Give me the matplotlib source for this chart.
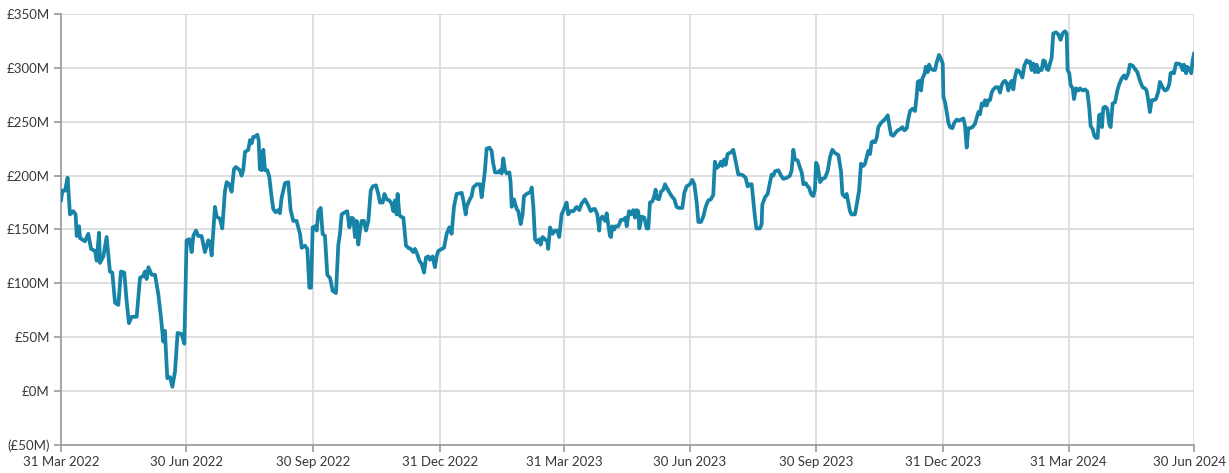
import matplotlib
matplotlib.use("Agg")
import matplotlib.pyplot as plt
import matplotlib.dates as mdates
import matplotlib.ticker as mticker
import matplotlib.transforms as mtransforms
import pandas as pd

# ---- data (days after 31 Mar 2022, value in £M) ----
start_date = "2022-03-31"
day_offset = [
    0, 1, 2.9, 4.8, 6.5, 8.9, 10.6, 11.4, 13.1, 13.8, 17.4, 19.8, 21.8, 24.7, 25.9, 27.6, 28.3, 30.7, 33.1, 35.5,
    37.2, 39.2, 41.6, 43.5, 45.9, 47.6, 49.3, 51.3, 54.9, 57.3, 59.7, 60.9, 62.1, 63.4, 65.8, 68.2, 70.6, 72.5,
    74.2, 75.4, 77.1, 79.1, 80.8, 82.7, 84.6, 87.5, 89.5,
    91.1, 93.1, 94.8, 96, 97.9, 99.6, 102, 104.4, 106.9, 108.1, 109.3, 111.7, 112.9, 115.3, 117, 118.9, 120.2,
    122.1, 123.8, 125.5, 126.9, 129.8, 131, 132.2, 133.5, 135.9, 137.1, 138.3, 139.5, 140.7, 142.4, 143.4, 144.3,
    145.5, 146.8, 148, 149.7, 151.1, 152.8, 154, 155.7, 157.6, 158.8, 160, 162.5, 164.9, 166.6, 168.5, 170.9, 173.4,
    174.6, 177, 178.7, 180.2, 181.4, 182.1, 182.6, 184.3, 185.5, 186.7, 188.4, 189.8, 191.5, 193.2, 195.2, 197.1,
    199.5, 201.2, 202.4, 203.6, 206, 207.7, 209.2, 210.9, 212.1, 213.3, 214.5, 215.7, 216.9, 218.1, 219.8, 221.3,
    223, 224.7, 226.1, 228.5, 230.2, 231.4, 233.4, 234.6, 236.3, 238.2, 239.9, 241.1, 242.3, 243.5, 244.2, 245.5,
    246.4, 248.4, 250.3, 252, 253.7, 255.6, 256.8, 258.5, 260, 261.7, 263.4, 264.8, 266.5, 267.7, 269.6, 271.3,
    272.5, 273.7, 276.2, 277.9, 279.8, 281.7, 283.4, 285.1, 287, 290.7, 291.9, 293.6, 294.3, 296.2, 297.9, 299.1,
    301.6, 304, 305.2, 306.4, 307.6, 308.8, 310.7, 312.4, 313.6, 314.9, 317.3, 318.5, 319.7, 320.9, 322.1, 323.3,
    325.3, 326.2, 327, 328.6, 330.6, 331.8, 333.5, 334.9, 335.9, 337.8, 340.7, 341.5, 342.7, 343.9, 345.6, 347,
    348, 349.4, 351.1, 352.8, 353.5, 354.8, 356.7, 358.4, 360.1, 361.5, 363.2, 364.9, 366.8, 368, 369.7, 371.7,
    374.1, 376, 377.7, 380.1, 381.4, 382.6, 384.3, 386.2, 387.4, 389.1, 390.5,
    391, 392.7, 394.7, 395.9, 397.1, 398.3, 399, 400, 401.4, 402.4, 404.3, 406.3, 408, 409.6, 410.4, 412.1, 413.5,
    415.2, 416.4, 417.6, 418.8, 419.6, 421.3, 423.2, 424.9, 426.1, 427.3, 429, 430.4, 431.4, 432.1, 433.8, 435.3,
    437, 438.2, 439.4, 441.1, 443, 445, 446.6, 448.3, 450.8, 452.2, 453.9, 456.3, 458, 459.5, 461.2, 462.4, 464.3,
    466, 467.7, 469.6, 471.5, 473.2, 474.4, 475.7, 477.4, 478.8, 479.8, 481.2, 482.2, 483.6, 486.5, 487.7, 488.9,
    491.4,
    493.4, 495, 496.7, 498.2, 499.9, 501.1, 502.3, 503.5, 504.5, 507.1, 508.3, 508.8, 510.8, 512.7, 514.4, 515.6,
    516.8, 518, 520.4, 522.4, 524.1, 526.5, 528.9, 530.1, 531.3, 532.5, 534.5, 536.2, 537.4, 538.6, 540.3, 541.7,
    542.7, 544.1, 545.8, 547, 547.8, 549, 550.7, 552.4, 554.3, 556.2, 557.9, 559.6, 561.5, 564, 565.9, 566.9,
    568.8, 570, 571.2, 572.4, 573.6, 576, 577.3, 579, 580.4, 582.1, 583.3, 584.5, 585.7, 586.9, 588.1, 589.3,
    590.6, 591.8, 593, 595, 596.6, 598.3, 599.8, 600.8, 602.2, 603.9, 605.6, 607, 608.7, 610.4, 611.9, 613.6,
    614.8, 616, 617.7, 619.6, 620.8, 621.6, 622.8, 624, 624.9, 626.4, 627.4, 628.8, 629.8, 631.2, 632.9, 634.1,
    635.3, 637, 638.5, 639.7, 640.2, 641.4, 642.6, 643.8, 645, 646.7, 648.1, 649.8, 651.5, 653, 654.7, 655.9,
    657.1, 658.3, 659.5, 661.2, 663.1, 664.4, 665.6, 666.8, 668, 669.2, 670.4, 671.6, 672.8, 674, 675.2, 676.4,
    678.1, 680.1, 681.3, 682.5, 683.7, 684.9, 686.1, 687.3, 688.5, 689.7, 690.9, 692.2, 693.4, 695.1, 696.5,
    697.5, 698.9, 700.6, 701.8,
    703, 704.2, 705.4, 706.6, 707.8, 709, 710.3, 711.5, 712.7, 713.9, 715.1, 716.3, 717.5, 718.7, 719.9, 721.9,
    723.6, 725.2, 726.7, 728.4, 729.6, 730.3, 731.5, 732.5, 734, 734.9, 736.4, 738.1, 739.3, 741.2, 742.9, 744.6,
    746, 747, 748.5, 749.7, 750.9, 752.1, 753.1, 754.3, 755.2, 756.2, 757.6, 759.1, 760.5, 761.5, 763, 764.7,
    766.4, 767.8, 769.5, 771.2, 772.6, 774.3, 775.5, 777.5, 779.2, 780.9, 782.8, 784.7, 786.4, 787.6, 788.8, 790,
    791.3, 792.5, 794.4, 796.1, 797.3, 799.2, 800.9, 802.6, 804.1, 805, 806.5, 807.5, 808.9, 810.6, 812.3, 813.8,
    814.7, 816.2, 817.1, 818.6, 820, 821, 822,
]
value_m = [
    177, 186, 186, 198, 164, 167, 164, 144, 153, 142, 139, 146, 132, 130, 121, 147, 119, 125, 143, 111,
    110, 82, 80, 111, 110, 84, 63, 69, 69, 105, 107, 111, 104, 115, 108, 108, 90, 69,
    46, 56, 12, 13, 4, 18, 54, 53, 44,
    140, 141, 129, 144, 149, 144, 144, 129, 140, 138, 126, 171, 162, 160, 151, 185, 194,
    192, 185, 206, 208, 205, 200, 205, 222, 224, 233, 230, 236, 236, 238, 233, 206,
    205, 224, 205, 205, 199, 180, 169, 166, 168, 165, 179, 193, 194, 168, 158, 158, 146,
    133, 135, 132, 96, 96, 130, 152, 153, 149, 167, 170, 146, 144, 108, 105, 93,
    91, 136, 146, 164, 166, 167, 152, 161, 160, 143, 158, 136, 149, 158, 158, 149,
    158, 186, 190, 191, 183, 175, 175, 183, 178, 177, 174, 167, 177, 164, 183, 164,
    162, 161, 135, 133, 132, 129, 132, 127, 121, 118, 110, 124, 125, 122, 125, 115,
    125, 130, 132, 133, 146, 152, 146, 171, 183, 184, 177, 164, 171, 177, 181, 189,
    192, 192, 180, 192, 205, 225, 226, 223, 211, 203, 203, 205, 202, 216, 205, 202,
    203, 194, 171, 178, 169, 167, 155, 164, 181, 183, 185, 189, 171, 141, 138, 141,
    136, 143, 141, 139, 132, 152, 146, 149, 149, 143, 164, 169, 175, 164, 167, 167,
    171, 168, 174, 178, 175, 172, 167, 169, 169, 164, 149,
    159, 162, 158, 165, 154, 144, 143, 153, 150, 153, 153, 159, 159, 161, 153, 167, 164,
    168, 161, 168, 167, 151, 162, 161, 151, 151, 175, 176, 181, 187, 179, 178, 185,
    187, 192, 189, 185, 181, 178, 171, 170, 170, 184, 190, 192, 196, 192, 175, 157, 157,
    162, 171, 177, 178, 182, 213, 207, 209, 213, 209, 215, 210, 220, 222, 224, 217,
    201,
    201, 200, 198, 190, 192, 192, 176, 161, 151, 151, 155, 173, 180, 183, 194, 201,
    200, 204, 205, 200, 197, 198, 200, 205, 224, 215, 214, 207, 203, 192, 193, 190,
    189, 183, 181, 187, 212, 209, 194, 197, 198, 204, 217, 224, 221, 219, 204, 183,
    180, 183, 175, 167, 164, 164, 173, 186, 211, 209, 211, 217, 223, 220, 231, 232,
    231, 235, 245, 249, 251, 253, 256, 248, 238, 237, 240, 242, 243, 245, 242, 244,
    253, 260, 262, 260, 274, 287, 288, 279, 290, 294, 301, 296, 303, 299, 298, 298,
    305, 312, 308, 304, 273, 268, 259, 249, 245, 244, 249, 252, 251, 252, 253, 246,
    226, 244, 244, 245, 248, 254, 259, 257, 267, 265, 270, 265, 270, 270, 277, 280,
    282, 282, 277, 284, 287, 288, 286, 279, 285, 288, 280, 292, 298, 297, 294,
    291, 302, 307, 305,
    306, 298, 304, 296, 303, 296, 299, 298, 307, 306, 299, 298, 304, 309, 332, 333,
    331, 326, 332, 334, 332, 298, 295, 284, 281, 271, 281, 279, 281, 279, 280, 278,
    263, 246, 243, 237, 235, 235, 256, 257, 245, 263, 264, 262, 248, 245, 267, 268,
    279, 285, 290, 293, 290, 295, 303, 302, 299, 296, 288, 282, 281, 279, 270, 259,
    270, 270, 271, 278, 287, 282, 279, 280, 285, 295, 296, 295, 304, 304, 303, 298,
    303, 295, 301, 299, 295, 307, 313,
]
tick_dates = ["2022-03-31", "2022-06-30", "2022-09-30", "2022-12-31", "2023-03-31",
              "2023-06-30", "2023-09-30", "2023-12-31", "2024-03-31", "2024-06-30"]
y_ticks = [-50, 0, 50, 100, 150, 200, 250, 300, 350]

# ---- figure ----
plt.rcParams['font.family'] = ['Lato', 'DejaVu Sans']
fig = plt.figure(figsize=(12.29, 4.73), dpi=100)
ax = fig.add_axes([61 / 1229, 1 - 445 / 473, (1194 - 61) / 1229, (445 - 14) / 473])

dates = pd.Timestamp(start_date) + pd.to_timedelta(day_offset, unit="D")
ax.plot(dates, value_m, color="#1783a7", lw=2.7, solid_joinstyle="round", zorder=3)

tks = pd.to_datetime(tick_dates)
ax.set_xlim(tks[0], tks[-1])
ax.set_xticks(tks)
ax.xaxis.set_major_formatter(mdates.DateFormatter("%-d %b %Y"))
ax.set_ylim(-50, 350)
ax.set_yticks(y_ticks)
ax.yaxis.set_major_formatter(mticker.FuncFormatter(
    lambda v, p: f"(£{abs(int(v))}M)" if v < 0 else f"£{int(v)}M"))

ax.grid(True, color="#d9d9d9", lw=1.2, zorder=0)
for s in ["top", "right"]:
    ax.spines[s].set_visible(False)
for s in ["left", "bottom"]:
    ax.spines[s].set_color("#9a9a9a")
    ax.spines[s].set_linewidth(1.2)
ax.tick_params(axis="both", colors="#9a9a9a", labelcolor="#383838", labelsize=9.5, length=5, width=1.2)
ax.tick_params(axis="x", pad=3)
ax.tick_params(axis="y", pad=3)

# nudge the last x label so it stays inside the canvas
last = ax.get_xticklabels()[-1]
last.set_transform(last.get_transform() + mtransforms.ScaledTranslation(-4 / 100, 0, fig.dpi_scale_trans))

fig.savefig("out.png", dpi=100)
